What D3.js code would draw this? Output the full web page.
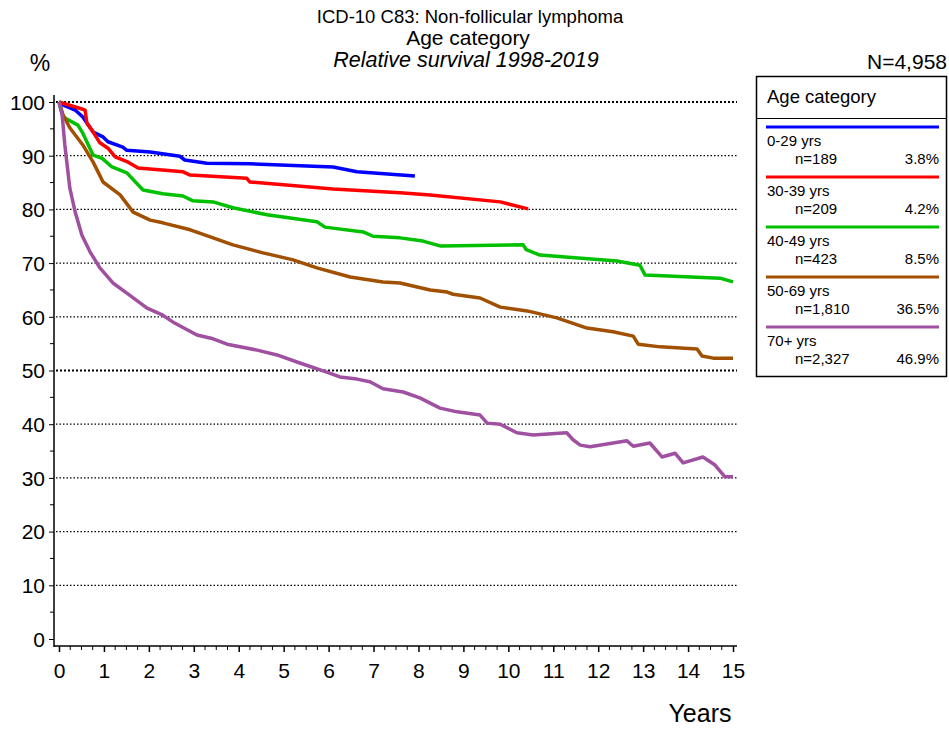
<!DOCTYPE html>
<html>
<head>
<meta charset="utf-8">
<script src="https://cdn.jsdelivr.net/npm/d3@7"></script>
<style>
  body { margin: 0; background: #fff; }
  svg text { font-family: "Liberation Sans", Arial, sans-serif; fill: #000; }
</style>
</head>
<body>
<div id="chart"></div>
<script>
// categories and legend texts
var groups = ["0-29 yrs", "30-39 yrs", "40-49 yrs", "50-69 yrs", "70+ yrs"];
var counts = ["n=189", "n=209", "n=423", "n=1,810", "n=2,327"];
var shares = ["3.8%", "4.2%", "8.5%", "36.5%", "46.9%"];
var colors = ["#0000ff", "#ff0000", "#00c000", "#a05000", "#a050a0"];

// survival curves, [years, percent]
var s0029 = [[0,100],[0.1,99.4],[0.36,98.5],[0.53,97.2],[0.62,96.1],[0.76,94.4],[0.98,93.5],[1.09,92.6],
  [1.42,91.6],[1.51,91.0],[2.03,90.7],[2.69,89.9],[2.8,89.2],[3.29,88.6],[4.25,88.5],[6.1,87.9],
  [6.63,87.0],[7.92,86.2]];
var s3039 = [[0,100],[0.51,98.7],[0.58,98.5],[0.62,96.1],[0.76,94.4],[0.91,92.4],[1.09,91.4],[1.25,89.8],
  [1.54,88.8],[1.76,87.7],[2.76,87.0],[2.92,86.4],[4.18,85.8],[4.25,85.1],[6.1,83.8],[7.59,83.1],
  [8.26,82.7],[9.82,81.4],[10.44,80.1]];
var s4049 = [[0,100],[0.09,97.2],[0.42,95.7],[0.53,94.2],[0.76,90.1],[0.96,89.5],[1.18,87.9],[1.51,86.8],
  [1.87,83.6],[2.31,82.9],[2.76,82.5],[2.98,81.6],[3.43,81.4],[3.87,80.3],[4.63,79.0],[5.74,77.7],
  [5.92,76.7],[6.77,75.8],[6.99,75.0],[7.59,74.7],[8.1,74.1],[8.48,73.2],[10.33,73.4],[10.4,72.5],
  [10.7,71.5],[12.42,70.4],[12.93,69.6],[13.04,67.8],[14.71,67.2],[15,66.5]];
var s5069 = [[0,100],[0.09,97.6],[0.24,95.2],[0.53,92.0],[0.76,88.8],[0.98,85.1],[1.36,82.7],[1.65,79.5],
  [2.03,78.0],[2.31,77.5],[2.92,76.2],[3.43,74.7],[3.87,73.4],[4.54,71.9],[5.21,70.6],[5.74,69.1],
  [6.48,67.4],[7.21,66.5],[7.59,66.3],[8.26,65.0],[8.64,64.6],[8.77,64.2],[9.37,63.5],[9.82,61.8],
  [10.42,61.1],[11.08,59.8],[11.75,57.9],[12.33,57.2],[12.78,56.4],[12.89,54.9],[13.38,54.4],
  [14.2,54.0],[14.31,52.7],[14.56,52.3],[15,52.3]];
var s70 = [[0,100],[0.07,97.6],[0.13,92.0],[0.24,84.0],[0.36,79.5],[0.51,75.2],[0.69,72.1],[0.91,69.1],
  [1.2,66.3],[1.51,64.4],[1.96,61.6],[2.31,60.3],[2.54,59.0],[3.07,56.6],[3.43,55.9],[3.74,54.9],
  [4.41,53.8],[4.85,52.9],[5.36,51.4],[5.96,49.7],[6.25,48.8],[6.63,48.4],[6.92,47.9],[7.21,46.6],
  [7.66,46.0],[8.03,44.9],[8.48,43.0],[8.86,42.3],[9.37,41.7],[9.53,40.2],[9.82,40.0],[10.19,38.4],
  [10.55,38.0],[11.3,38.4],[11.44,37.1],[11.6,36.1],[11.82,35.8],[12.64,36.9],[12.78,35.9],
  [13.15,36.5],[13.42,33.9],[13.71,34.6],[13.89,32.8],[14.33,33.9],[14.6,32.4],[14.82,30.2],[15,30.2]];
var series = [s0029, s3039, s4049, s5069, s70];

var yTicks = [0,10,20,30,40,50,60,70,80,90,100];
var xTicks = d3.range(0, 16);

var W = 949, H = 729;
var svg = d3.select("#chart").append("svg")
  .attr("width", W)
  .attr("height", H);

var x = d3.scaleLinear().domain([0, 15]).range([59, 733]);
var y = d3.scaleLinear().domain([0, 100]).range([639, 102]);

// titles
svg.append("text").attr("x", 470).attr("y", 23).attr("text-anchor", "middle")
  .style("font-size", "18.5px").text("ICD-10 C83: Non-follicular lymphoma");
svg.append("text").attr("x", 468).attr("y", 45).attr("text-anchor", "middle")
  .style("font-size", "21px").text("Age category");
svg.append("text").attr("x", 466).attr("y", 67).attr("text-anchor", "middle")
  .style("font-size", "21.5px").style("font-style", "italic").text("Relative survival 1998-2019");
svg.append("text").attr("x", 40).attr("y", 71).attr("text-anchor", "middle")
  .style("font-size", "23px").text("%");
svg.append("text").attr("x", 947).attr("y", 69).attr("text-anchor", "end")
  .style("font-size", "21px").text("N=4,958");

// grid lines
svg.append("g").selectAll("line")
  .data(yTicks.filter(function(d){ return d > 0; }))
  .enter().append("line")
    .attr("x1", 56).attr("x2", 737)
    .attr("y1", function(d){ return y(d); })
    .attr("y2", function(d){ return y(d); })
    .attr("stroke", "#000")
    .attr("stroke-width", function(d){ return (d == 50 || d == 100) ? 2 : 1.3; })
    .attr("stroke-dasharray", function(d){ return (d == 50 || d == 100) ? "2,2" : "1.5,2"; });

// y axis
var yAxis = d3.axisLeft(y).tickValues(yTicks).tickSize(5).tickSizeOuter(0).tickPadding(4);
var gy = svg.append("g").attr("transform", "translate(54,0)").call(yAxis);
gy.select(".domain").remove();
gy.selectAll("text").style("font-size", "21px").attr("dy", "0.35em");
svg.append("g").selectAll("line")
  .data(d3.range(5, 100, 10))
  .enter().append("line")
    .attr("x1", 50).attr("x2", 54)
    .attr("y1", function(d){ return y(d); }).attr("y2", function(d){ return y(d); })
    .attr("stroke", "#000");
svg.append("line").attr("x1", 54).attr("x2", 54).attr("y1", 95).attr("y2", 647)
  .attr("stroke", "#000").attr("stroke-width", 1.5);

// x axis
var xAxis = d3.axisBottom(x).tickValues(xTicks).tickSize(6).tickSizeOuter(0).tickPadding(11);
var gx = svg.append("g").attr("transform", "translate(0,646)").call(xAxis);
gx.select(".domain").remove();
gx.selectAll("text").style("font-size", "21px");
gx.selectAll(".tick line").attr("stroke-width", 1.5);
svg.append("g").selectAll("line")
  .data(d3.range(0, 60).filter(function(d){ return d % 4 != 0; }).map(function(d){ return d / 4; }))
  .enter().append("line")
    .attr("x1", function(d){ return x(d); }).attr("x2", function(d){ return x(d); })
    .attr("y1", 646).attr("y2", 650)
    .attr("stroke", "#000");
svg.append("line").attr("x1", 54).attr("x2", 737).attr("y1", 646).attr("y2", 646)
  .attr("stroke", "#000").attr("stroke-width", 1.5);
svg.append("text").attr("x", 700).attr("y", 722).attr("text-anchor", "middle")
  .style("font-size", "25px").text("Years");

// curves
var line = d3.line()
  .x(function(d){ return x(d[0]); })
  .y(function(d){ return y(d[1]); });

svg.append("g").selectAll("path")
  .data(series)
  .enter().append("path")
    .attr("d", line)
    .attr("fill", "none")
    .attr("stroke", function(d, i){ return colors[i]; })
    .attr("stroke-width", 3.5)
    .attr("stroke-linejoin", "round");

// legend
var lg = svg.append("g");
lg.append("rect").attr("x", 756.5).attr("y", 76.5).attr("width", 190).attr("height", 300)
  .attr("fill", "#fff").attr("stroke", "#000").attr("stroke-width", 1.5);
lg.append("line").attr("x1", 756).attr("x2", 947).attr("y1", 118.5).attr("y2", 118.5)
  .attr("stroke", "#000");
lg.append("text").attr("x", 767).attr("y", 103).style("font-size", "18.5px").text("Age category");

var items = lg.selectAll("g.item")
  .data(groups)
  .enter().append("g")
    .attr("class", "item")
    .attr("transform", function(d, i){ return "translate(0," + (127 + i * 50) + ")"; });
items.append("line")
  .attr("x1", 766).attr("x2", 939).attr("y1", 0).attr("y2", 0)
  .attr("stroke", function(d, i){ return colors[i]; })
  .attr("stroke-width", 3);
items.append("text").attr("x", 767).attr("y", 19).style("font-size", "15px")
  .text(function(d){ return d; });
items.append("text").attr("x", 795).attr("y", 37).style("font-size", "15px")
  .text(function(d, i){ return counts[i]; });
items.append("text").attr("x", 939).attr("y", 37).attr("text-anchor", "end").style("font-size", "15px")
  .text(function(d, i){ return shares[i]; });
</script>
</body>
</html>
